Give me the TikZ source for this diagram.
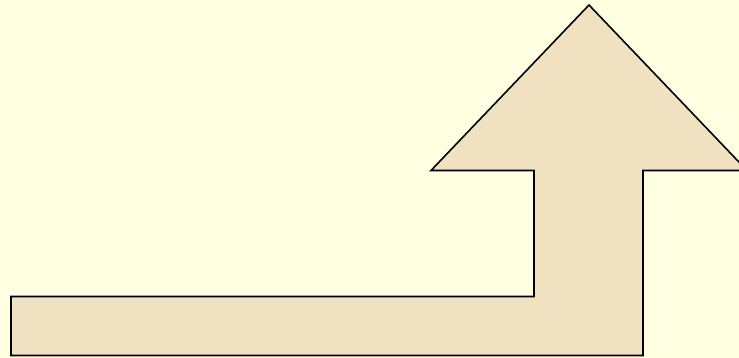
\documentclass[tikz,border=0pt]{standalone}
\definecolor{bgyellow}{RGB}{255,255,225}
\definecolor{parch}{RGB}{240,225,193}
\tikzset{
  bentarrow/.style={draw=black, line width=1.6pt, line join=miter, fill=parch}
}
\begin{document}
\begin{tikzpicture}[x=1pt,y=-1pt]
  \useasboundingbox (0,0) rectangle (739,358);
  \fill[bgyellow] (0,0) rectangle (739,358);
  \clip (0,0) rectangle (739,358);
  \draw[bentarrow]
    (11,355.5) -- (11,296.5) -- (534,296.5) -- (534,170.5) -- (431,170.5)
    -- (589,5) -- (747,170.5) -- (643,170.5) -- (643,355.5) -- cycle;
\end{tikzpicture}
\end{document}
